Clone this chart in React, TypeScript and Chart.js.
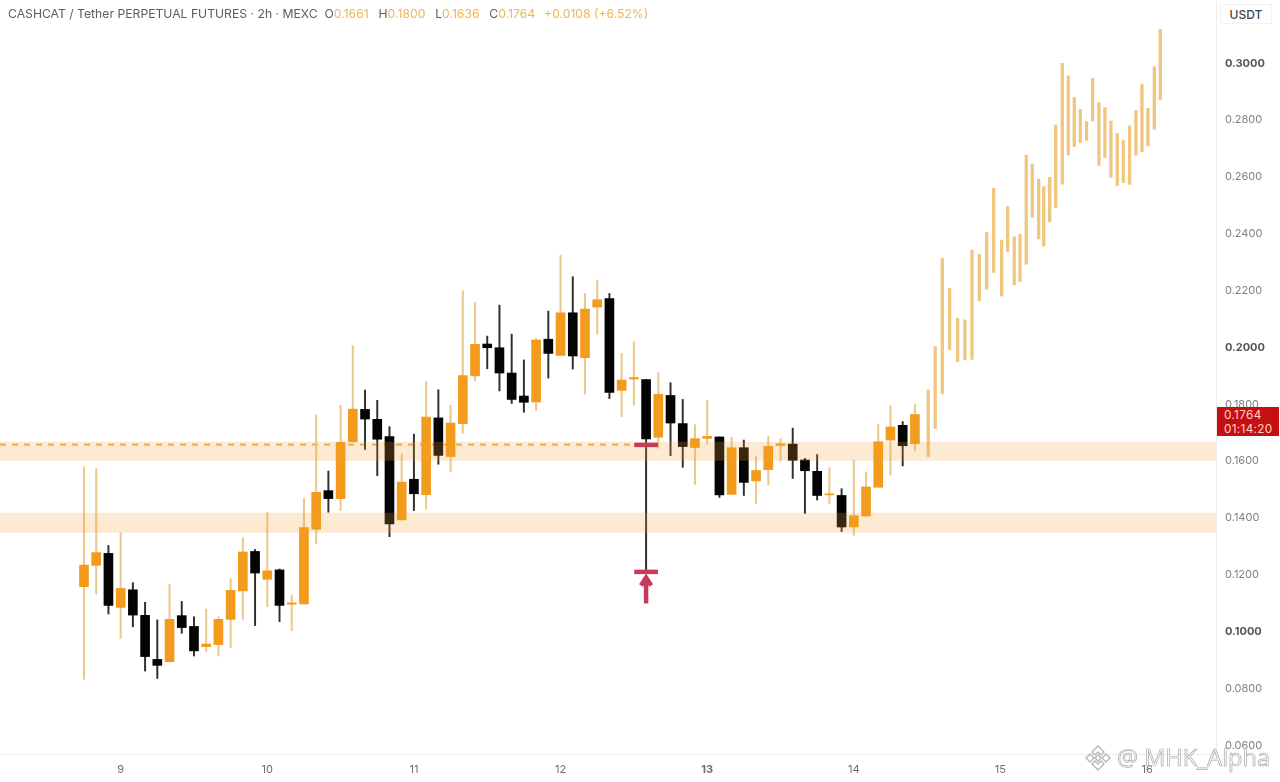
import React, { useEffect, useRef } from "react";
import { Chart, registerables } from "chart.js";

Chart.register(...registerables);

const opens = [0.1158,0.1233,0.1275,0.1085,0.1147,0.1057,0.0902,0.0894,0.1056,0.1018,0.0947,0.0954,0.1043,0.1143,0.1282,0.1184,0.1217,0.1096,0.1097,0.1360,0.1496,0.1468,0.1668,0.1782,0.1747,0.1686,0.1393,0.1536,0.1482,0.1752,0.1616,0.1732,0.1900,0.2012,0.1999,0.1910,0.1829,0.1808,0.2029,0.1972,0.2122,0.1964,0.2142,0.2172,0.1849,0.1889,0.1887,0.1684,0.1831,0.1732,0.1648,0.1680,0.1685,0.1483,0.1647,0.1530,0.1570,0.1655,0.1660,0.1604,0.1564,0.1481,0.1479,0.1368,0.1407,0.1508,0.1674,0.1726,0.1661];
const highs = [0.1580,0.1574,0.1303,0.1348,0.1172,0.1103,0.1041,0.1166,0.1106,0.1052,0.1079,0.1052,0.1186,0.1330,0.1289,0.1420,0.1220,0.1129,0.1469,0.1762,0.1565,0.1797,0.2006,0.1850,0.1814,0.1721,0.1625,0.1695,0.1880,0.1851,0.1797,0.2200,0.2158,0.2040,0.2149,0.2047,0.1956,0.2032,0.2128,0.2325,0.2249,0.2190,0.2237,0.2190,0.1979,0.2020,0.1887,0.1912,0.1876,0.1817,0.1728,0.1814,0.1685,0.1684,0.1674,0.1616,0.1688,0.1679,0.1716,0.1610,0.1623,0.1577,0.1503,0.1604,0.1562,0.1729,0.1795,0.1739,0.1800];
const lows = [0.0832,0.1132,0.1062,0.0976,0.1017,0.0861,0.0835,0.0894,0.0994,0.0914,0.0929,0.0914,0.0944,0.1043,0.1021,0.1088,0.1035,0.1003,0.1097,0.1310,0.1420,0.1426,0.1668,0.1641,0.1549,0.1334,0.1393,0.1426,0.1430,0.1589,0.1563,0.1698,0.1883,0.1925,0.1847,0.1803,0.1772,0.1778,0.1892,0.1972,0.1924,0.1836,0.2047,0.1820,0.1756,0.1796,0.1210,0.1645,0.1619,0.1578,0.1518,0.1660,0.1472,0.1483,0.1479,0.1451,0.1516,0.1600,0.1539,0.1416,0.1463,0.1451,0.1352,0.1339,0.1405,0.1508,0.1551,0.1583,0.1636];
const closes = [0.1234,0.1278,0.1092,0.1152,0.1058,0.0912,0.0881,0.1043,0.1014,0.0932,0.0956,0.1043,0.1145,0.1280,0.1206,0.1214,0.1092,0.1101,0.1366,0.1490,0.1468,0.1666,0.1783,0.1748,0.1677,0.1379,0.1526,0.1485,0.1755,0.1620,0.1734,0.1901,0.2011,0.1999,0.1910,0.1817,0.1807,0.2026,0.1979,0.2122,0.1970,0.2135,0.2168,0.1842,0.1885,0.1894,0.1678,0.1835,0.1734,0.1651,0.1679,0.1687,0.1481,0.1647,0.1525,0.1567,0.1652,0.1661,0.1603,0.1566,0.1479,0.1485,0.1368,0.1408,0.1509,0.1668,0.1720,0.1654,0.1764];

const forecastSlots = [69.09,69.66,70.24,70.84,71.5,72.09,72.67,73.27,73.87,74.44,75.1,75.59,76.13,76.6,77.11,77.6,78.13,78.54,79.03,79.52,80.06,80.55,81.04,81.53,82.05,82.54,83.06,83.55,84.04,84.56,85.05,85.57,86.09,86.58,87.07,87.59,88.08];
const forecastHighs = [0.1850,0.2003,0.2314,0.2208,0.2103,0.2097,0.2343,0.2328,0.2405,0.2560,0.2378,0.2496,0.2390,0.2398,0.2677,0.2646,0.2592,0.2566,0.2599,0.2783,0.3000,0.2956,0.2880,0.2838,0.2795,0.2947,0.2862,0.2844,0.2797,0.2754,0.2728,0.2780,0.2834,0.2927,0.2842,0.2988,0.3120];
const forecastLows = [0.1616,0.1715,0.1836,0.1993,0.1950,0.1956,0.1958,0.2164,0.2205,0.2264,0.2181,0.2337,0.2220,0.2232,0.2293,0.2458,0.2382,0.2357,0.2442,0.2493,0.2575,0.2677,0.2707,0.2721,0.2728,0.2797,0.2641,0.2669,0.2599,0.2570,0.2580,0.2574,0.2677,0.2689,0.2709,0.2768,0.2871];

const dayTicks = [3, 15, 27, 39, 51, 63, 75, 87];
const dayLabels = ["9", "10", "11", "12", "13", "14", "15", "16"];
const priceTicks = [0.06, 0.08, 0.1, 0.12, 0.14, 0.16, 0.18, 0.2, 0.22, 0.24, 0.26, 0.28, 0.3];
const boldPrices = ["0.3000", "0.2000", "0.1000"];

const upperBand = [0.1601, 0.1668];
const lowerBand = [0.1348, 0.1418];
const dashedLevel = 0.1658;
const dashedEnd = 45;
const markerTop = 0.1657;
const markerBottom = 0.1210;
const markerSlot = 46;
const arrowTail = 0.1099;
const arrowTip = 0.1190;
const arrowBase = 0.1162;

const slotMin = -6.874;
const slotMax = 92.64;
const priceMin = 0.0569;
const priceMax = 0.3223;

const ORANGE = "#F39B1C";
const ORANGE_WICK = "#EBC88E";
const BLACK = "#040404";
const BLACK_WICK = "#2e2e2e";
const FORECAST = "#F0C67E";
const RED = "#C73A5C";
const BAND = "rgba(248,160,50,0.22)";

const headerParts: [string, string, number][] = [
  ["CASHCAT / Tether PERPETUAL FUTURES · 2h · MEXC", "#5d5d5d", 0],
  ["\u00a0\u00a0O", "#5d5d5d", 0], ["0.1661", "#EEB456", 0],
  ["\u00a0\u00a0H", "#5d5d5d", 3], ["0.1800", "#EEB456", 0],
  ["\u00a0\u00a0L", "#5d5d5d", 3], ["0.1636", "#EEB456", 0],
  ["\u00a0\u00a0C", "#5d5d5d", 3], ["0.1764", "#EEB456", 0],
  ["\u00a0\u00a0+0.0108 (+6.52%)", "#EEB456", 2],
];

export default function App() {
  const ref = useRef<HTMLCanvasElement>(null);
  useEffect(() => {
    document.body.style.margin = "0";
    const idx = opens.map((_, i) => i);
    const up = idx.filter((i) => closes[i] >= opens[i]);
    const down = idx.filter((i) => closes[i] < opens[i]);
    const wick = (list: number[]) => list.map((i) => ({ x: i, y: [lows[i], highs[i]] }));
    const body = (list: number[]) => list.map((i) => ({ x: i, y: [Math.min(opens[i], closes[i]), Math.max(opens[i], closes[i])] }));
    const bar = (data: any[], color: string, thick: number, order: number) => ({
      type: "bar", data, backgroundColor: color, barThickness: thick, grouped: false, order, borderWidth: 0,
    });
    const line = (data: any[], color: string, width: number, order: number, extra: any = {}) => ({
      type: "line", data, borderColor: color, borderWidth: width, pointRadius: 0, tension: 0, fill: false, order, ...extra,
    });
    const chart = new Chart(ref.current as HTMLCanvasElement, {
      type: "bar",
      data: {
        datasets: [
          line([{ x: slotMin, y: dashedLevel }, { x: dashedEnd, y: dashedLevel }], "#F2A950", 2, 9, { borderDash: [6, 6] }),
          bar(wick(up), ORANGE_WICK, 1.4, 8),
          bar(wick(down), BLACK_WICK, 1.3, 8),
          bar(body(up), ORANGE, 9, 7),
          bar(body(down), BLACK, 9, 7),
          bar(forecastSlots.map((x, i) => ({ x, y: [forecastLows[i], forecastHighs[i]] })), FORECAST, 2.6, 6),
          line([{ x: slotMin, y: upperBand[1] }, { x: slotMax, y: upperBand[1] }], "transparent", 0, 5, { fill: { value: upperBand[0] }, backgroundColor: BAND }),
          line([{ x: slotMin, y: lowerBand[1] }, { x: slotMax, y: lowerBand[1] }], "transparent", 0, 5, { fill: { value: lowerBand[0] }, backgroundColor: BAND }),
          line([{ x: markerSlot - 0.97, y: markerTop }, { x: markerSlot + 0.97, y: markerTop }], RED, 4.5, 1),
          line([{ x: markerSlot - 0.97, y: markerBottom }, { x: markerSlot + 0.97, y: markerBottom }], RED, 4.5, 1),
          line([{ x: markerSlot, y: arrowTail }, { x: markerSlot, y: arrowTip }], RED, 4.5, 1),
          line([{ x: markerSlot - 0.42, y: arrowBase }, { x: markerSlot, y: arrowTip }, { x: markerSlot + 0.42, y: arrowBase }], RED, 4.5, 1),
        ] as any,
      },
      options: {
        animation: false,
        responsive: false,
        layout: { padding: 0 },
        plugins: { legend: { display: false }, tooltip: { enabled: false } },
        scales: {
          x: {
            type: "linear",
            offset: false,
            min: slotMin,
            max: slotMax,
            grid: { display: false },
            border: { display: true, color: "#eeeeee" },
            afterFit: (s: any) => { s.height = 28; s.paddingLeft = 0; s.paddingRight = 0; },
            afterBuildTicks: (s: any) => { s.ticks = dayTicks.map((value) => ({ value })); },
            ticks: {
              autoSkip: false,
              maxRotation: 0,
              padding: 1,
              color: "#6d6d6d",
              font: (c: any) => ({ family: "Inter", size: 11, weight: c.tick && c.tick.value === 51 ? "bold" : "normal" }),
              callback: (v: any) => dayLabels[dayTicks.indexOf(v)] ?? "",
            },
          },
          y: {
            position: "right",
            min: priceMin,
            max: priceMax,
            grid: { display: false },
            border: { display: true, color: "#eeeeee" },
            afterFit: (s: any) => { s.width = 64; s.paddingTop = 0; s.paddingBottom = 0; },
            afterBuildTicks: (s: any) => { s.ticks = priceTicks.map((value) => ({ value })); },
            ticks: {
              autoSkip: false,
              padding: 1,
              color: (c: any) => (boldPrices.includes(Number(c.tick.value).toFixed(4)) ? "#555555" : "#808080"),
              font: (c: any) => ({ family: "Inter", size: 11, weight: c.tick && boldPrices.includes(Number(c.tick.value).toFixed(4)) ? "bold" : "normal" }),
              callback: (v: any) => Number(v).toFixed(4),
            },
          },
        },
      } as any,
    });
    return () => chart.destroy();
  }, []);

  return (
    <div style={{ position: "fixed", left: 0, top: 0, width: 1280, height: 782, background: "#fff", overflow: "hidden", fontFamily: "Inter" }}>
      <canvas ref={ref} width={1280} height={782} style={{ display: "block", width: 1280, height: 782 }} />
      <div style={{ position: "absolute", left: 8, top: 6, fontSize: 12.2, lineHeight: "15px", whiteSpace: "nowrap" }}>
        {headerParts.map(([t, c, m], i) => <span key={i} style={{ color: c, marginLeft: m }}>{t}</span>)}
      </div>
      <div style={{ position: "absolute", left: 1220, top: 4, width: 52, height: 20, lineHeight: "20px", textAlign: "center", fontSize: 12, fontWeight: 500, color: "#444", background: "#fff", border: "1px solid #f2f2f2", boxSizing: "border-box" }}>USDT</div>
      <div style={{ position: "absolute", left: 1217, top: 407, width: 62, height: 29, background: "#C60F10", color: "#FFD0C8", fontSize: 11.8, letterSpacing: 0.3, lineHeight: "14px", paddingTop: 1, paddingLeft: 7, boxSizing: "border-box" }}>
        <div>0.1764</div>
        <div>01:14:20</div>
      </div>
      <svg width="28" height="28" viewBox="0 0 28 28" style={{ position: "absolute", left: 1084, top: 744 }} fill="none" stroke="#b5b5b5" strokeWidth="1.3">
        <path d="M14 2 L20 8 L17 11 L14 8 L11 11 L8 8 Z" />
        <path d="M14 26 L20 20 L17 17 L14 20 L11 17 L8 20 Z" />
        <path d="M2 14 L6 10 L10 14 L6 18 Z" />
        <path d="M26 14 L22 10 L18 14 L22 18 Z" />
        <path d="M14 11 L17 14 L14 17 L11 14 Z" />
      </svg>
      <div style={{ position: "absolute", left: 1117, top: 743, fontFamily: "Open Sans", fontSize: 23.5, lineHeight: "28px", whiteSpace: "nowrap", color: "rgba(255,255,255,0.55)", WebkitTextStroke: "0.7px #a8a8a8" }}>@ MHK_Alpha</div>
    </div>
  );
}
